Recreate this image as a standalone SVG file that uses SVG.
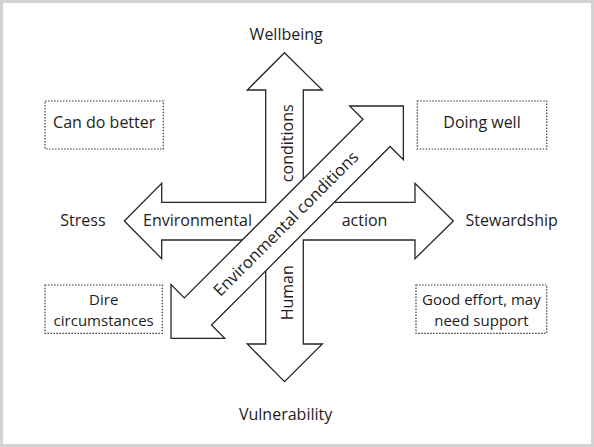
<svg xmlns="http://www.w3.org/2000/svg" width="594" height="447" viewBox="0 0 594 447">
<style>
  text { font-family: "Open Sans", "Liberation Sans", sans-serif; font-size: 16px; fill: #1e1c1d; }
  .c { text-anchor: middle; }
  .arrow { fill: #ffffff; stroke: #262626; stroke-width: 1.3; stroke-linejoin: miter; }
  .box { fill: #ffffff; stroke: #3a3a3a; stroke-width: 1.2; stroke-dasharray: 1.5 1.5; }
  .two { font-size: 15px; }
</style>
<rect x="1.5" y="1.5" width="591" height="444" fill="#ffffff" stroke="#d3d3d3" stroke-width="3"/>

<g id="connectors">
  <g id="cross-arrows">
    <polygon class="arrow" points="284.5,52.7 322.3,90 303.3,90 303.3,202.3 415,202.3 415,183.3 453.3,221 415,258.7 415,240 303.3,240 303.3,344 322.3,344 284.5,381.7 247.3,344 265.7,344 265.7,240 161.7,240 161.7,258.7 124.3,221 161.7,183.3 161.7,202.3 265.7,202.3 265.7,90 247.3,90"/>
    <text class="c" x="197.5" y="226">Environmental</text>
    <text class="c" x="364.5" y="226">action</text>
    <text class="c" transform="translate(292.5,143.3) rotate(-90)">conditions</text>
    <text class="c" transform="translate(292.5,292.8) rotate(-90)">Human</text>
  </g>
  <g id="diagonal-arrow" transform="translate(287.2,222.2) rotate(-45)">
    <polygon class="arrow" points="164.3,0 126.3,38 126.3,19.2 -126.3,19.2 -126.3,38 -164.3,0 -126.3,-38 -126.3,-19.2 126.3,-19.2 126.3,-38"/>
    <text class="c" x="-2" y="5.8" style="font-size:16.5px">Environmental conditions</text>
  </g>
</g>

<g id="wellbeing"><text class="c" x="286.2" y="40">Wellbeing</text></g>
<g id="vulnerability"><text class="c" x="285.6" y="420">Vulnerability</text></g>
<g id="stress"><text class="c" x="82.9" y="226">Stress</text></g>
<g id="stewardship"><text class="c" x="511.7" y="226">Stewardship</text></g>

<g id="can-do-better">
  <rect class="box" x="45" y="101" width="118.3" height="48"/>
  <text class="c" x="104.2" y="128.3">Can do better</text>
</g>
<g id="doing-well">
  <rect class="box" x="417.3" y="101" width="129.4" height="48"/>
  <text class="c" x="482" y="128.3">Doing well</text>
</g>
<g id="dire-circumstances">
  <rect class="box" x="45" y="285" width="117.3" height="48.3"/>
  <text class="c two" x="103.7" y="305"><tspan x="103.7">Dire</tspan><tspan x="103.7" dy="20.6">circumstances</tspan></text>
</g>
<g id="good-effort">
  <rect class="box" x="416" y="285" width="130.7" height="48.3"/>
  <text class="c two" x="481.4" y="305"><tspan x="481.4">Good effort, may</tspan><tspan x="481.4" dy="20.6">need support</tspan></text>
</g>
</svg>
